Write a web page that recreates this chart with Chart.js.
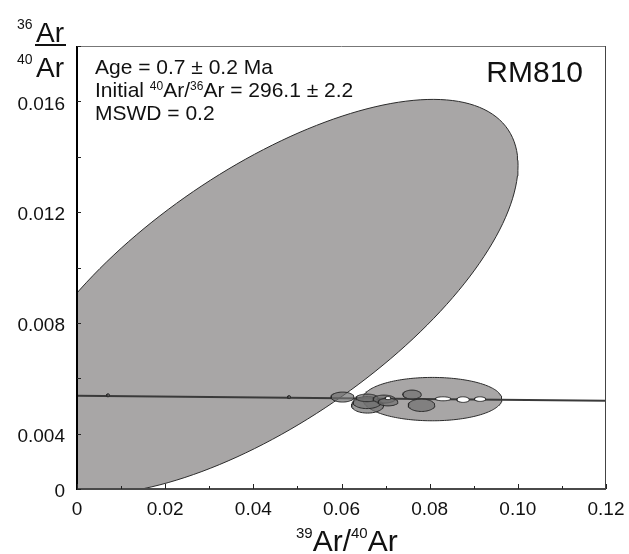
<!DOCTYPE html>
<html>
<head>
<meta charset="utf-8">
<title>RM810 inverse isochron</title>
<script src="https://cdn.jsdelivr.net/npm/chart.js@4.4.1/dist/chart.umd.min.js"></script>
<style>
  body { margin: 0; background: #fff; }
</style>
</head>
<body>
<canvas id="canvas" width="629" height="554"></canvas>
<script>
  // tick labels
  var X_TICKS = ['0', '0.02', '0.04', '0.06', '0.08', '0.10', '0.12'];
  var Y_TICKS = ['0', '0.004', '0.008', '0.012', '0.016'];

  // large error ellipses (39Ar/40Ar, 36Ar/40Ar, sigma x, sigma y, correlation)
  var envX = [0.04231, 0.0806];
  var envY = [0.008942, 0.005247];
  var envSX = [0.05774, 0.01577];
  var envSY = [0.00713, 0.000783];
  var envRho = [0.666, 0];

  // step ellipses, open = steps left out of the fit
  var stepX = [0.00703, 0.04809, 0.06023, 0.06590, 0.06579, 0.06579, 0.06965, 0.07055, 0.0760, 0.07815, 0.07055, 0.08303, 0.08757, 0.09143];
  var stepY = [0.005385, 0.00532, 0.00532, 0.005013, 0.005121, 0.005291, 0.005247, 0.005139, 0.00541, 0.005024, 0.005284, 0.005258, 0.005229, 0.005247];
  var stepSX = [0.00034, 0.00034, 0.00261, 0.00363, 0.00318, 0.00250, 0.00250, 0.00227, 0.00209, 0.00302, 0.00068, 0.00177, 0.00143, 0.00129];
  var stepSY = [0.000054, 0.000054, 0.00018, 0.000271, 0.000217, 0.000137, 0.000144, 0.000137, 0.000162, 0.000224, 0.000054, 0.000072, 0.000101, 0.000083];
  var stepOpen = [false, false, false, false, false, false, false, false, false, false, true, true, true, true];

  // isochron line
  var isoX = [0, 0.12];
  var isoY = [0.005367, 0.005186];

  var FONT = '"Liberation Sans", Arial, sans-serif';

  function ellipsePoints(cx, cy, sx, sy, rho, n) {
    var pts = [];
    var k = Math.sqrt(1 - rho * rho);
    for (var i = 0; i <= n; i++) {
      var t = 2 * Math.PI * i / n;
      pts.push({ x: cx + sx * Math.cos(t), y: cy + sy * (rho * Math.cos(t) + k * Math.sin(t)) });
    }
    return pts;
  }

  var datasets = [];
  for (var i = 0; i < envX.length; i++) {
    datasets.push({
      data: ellipsePoints(envX[i], envY[i], envSX[i], envSY[i], envRho[i], 180),
      borderColor: '#2b2b2b', borderWidth: 1, backgroundColor: '#a8a6a6', fill: 'shape'
    });
  }
  datasets.push({
    data: isoX.map(function (x, j) { return { x: x, y: isoY[j] }; }),
    borderColor: '#3a3a3a', borderWidth: 2, fill: false
  });
  for (var s = 0; s < stepX.length; s++) {
    datasets.push({
      data: ellipsePoints(stepX[s], stepY[s], stepSX[s], stepSY[s], 0, 60),
      borderColor: '#2b2b2b', borderWidth: 1,
      backgroundColor: stepOpen[s] ? '#ffffff' : 'rgba(112,112,112,0.7)', fill: 'shape'
    });
  }
  // first pushed is drawn first (bottom)
  datasets.forEach(function (d, j) {
    d.order = datasets.length - j;
    d.pointRadius = 0;
    d.tension = 0;
  });

  var frameAndText = {
    id: 'frameAndText',
    afterDraw: function (chart) {
      var ctx = chart.ctx, a = chart.chartArea;
      var xs = chart.scales.x, ys = chart.scales.y;
      ctx.save();
      // frame
      ctx.lineWidth = 1;
      ctx.strokeStyle = '#777';
      ctx.beginPath(); ctx.moveTo(a.left, a.top + 0.5); ctx.lineTo(a.right, a.top + 0.5); ctx.stroke();
      ctx.strokeStyle = '#444';
      ctx.beginPath(); ctx.moveTo(a.right - 0.5, a.top); ctx.lineTo(a.right - 0.5, a.bottom); ctx.stroke();
      ctx.lineWidth = 2;
      ctx.strokeStyle = '#4a4a4a';
      ctx.beginPath(); ctx.moveTo(a.left, a.bottom); ctx.lineTo(a.right, a.bottom); ctx.stroke();
      ctx.strokeStyle = '#000';
      ctx.beginPath(); ctx.moveTo(a.left, a.top); ctx.lineTo(a.left, a.bottom + 1); ctx.stroke();
      // inward ticks
      ctx.lineWidth = 1;
      ctx.strokeStyle = '#222';
      xs.ticks.forEach(function (t, i) {
        var px = Math.round(xs.getPixelForValue(t.value)) + 0.5;
        var len = i % 2 === 0 ? 5 : 3;
        ctx.beginPath(); ctx.moveTo(px, a.bottom); ctx.lineTo(px, a.bottom - len); ctx.stroke();
      });
      ys.ticks.forEach(function (t) {
        var py = Math.round(ys.getPixelForValue(t.value)) + 0.5;
        ctx.beginPath(); ctx.moveTo(a.left, py); ctx.lineTo(a.left + 4, py); ctx.stroke();
      });

      ctx.fillStyle = '#111';
      ctx.textBaseline = 'alphabetic';
      ctx.textAlign = 'left';
      function run(parts, x, y) {
        parts.forEach(function (p) {
          ctx.font = p[1] + 'px ' + FONT;
          ctx.fillText(p[0], x, y + (p[2] || 0));
          x += ctx.measureText(p[0]).width;
        });
      }
      // y title as a fraction
      run([['36', 14, 0]], 17, 29);
      run([['Ar', 28, 0]], 36, 42);
      ctx.fillRect(35, 44, 31, 2);
      run([['40', 14, 0]], 17, 64);
      run([['Ar', 28, 0]], 36, 77);
      // x title
      run([['39', 15, -13], ['Ar/', 30, 0], ['40', 15, -13], ['Ar', 30, 0]], 296, 551);
      // fit results
      run([['Age = 0.7 \u00b1 0.2 Ma', 21, 0]], 95, 74);
      run([['Initial ', 21, 0], ['40', 12, -7], ['Ar/', 21, 0], ['36', 12, -7], ['Ar = 296.1 \u00b1 2.2', 21, 0]], 95, 97);
      run([['MSWD = 0.2', 21, 0]], 95, 120);
      ctx.font = '30px ' + FONT;
      ctx.textAlign = 'right';
      ctx.fillText('RM810', 583, 82);
      ctx.restore();
    }
  };

  window.onload = function () {
    var ctx = document.getElementById('canvas').getContext('2d');
    window.myChart = new Chart(ctx, {
      type: 'line',
      data: { datasets: datasets },
      plugins: [frameAndText],
      options: {
        responsive: false,
        animation: false,
        devicePixelRatio: 1,
        layout: { padding: { top: 46, right: 23, left: 0, bottom: 0 } },
        plugins: { legend: { display: false }, tooltip: { enabled: false } },
        scales: {
          x: {
            type: 'linear', min: 0, max: 0.12,
            grid: { display: false, drawTicks: false },
            border: { display: false },
            ticks: {
              stepSize: 0.01, padding: 9, maxRotation: 0, autoSkip: false,
              color: '#111', font: { family: FONT, size: 19 },
              callback: function (v, i) { return i % 2 === 0 ? X_TICKS[i / 2] : ''; }
            },
            afterFit: function (scale) {
              scale.height = 65;
              scale.paddingLeft = 0;
              scale.paddingRight = 0;
            }
          },
          y: {
            type: 'linear', min: 0.002, max: 0.018,
            grid: { display: false, drawTicks: false },
            border: { display: false },
            ticks: {
              stepSize: 0.002, padding: 12, autoSkip: false, labelOffset: 3,
              color: '#111', font: { family: FONT, size: 19 },
              callback: function (v, i) {
                if (i === 0) return Y_TICKS[0];
                return i % 2 === 1 ? Y_TICKS[(i + 1) / 2] : '';
              }
            },
            afterFit: function (scale) {
              scale.width = 77;
              scale.paddingTop = 0;
              scale.paddingBottom = 0;
            }
          }
        }
      }
    });
  };
</script>
</body>
</html>
